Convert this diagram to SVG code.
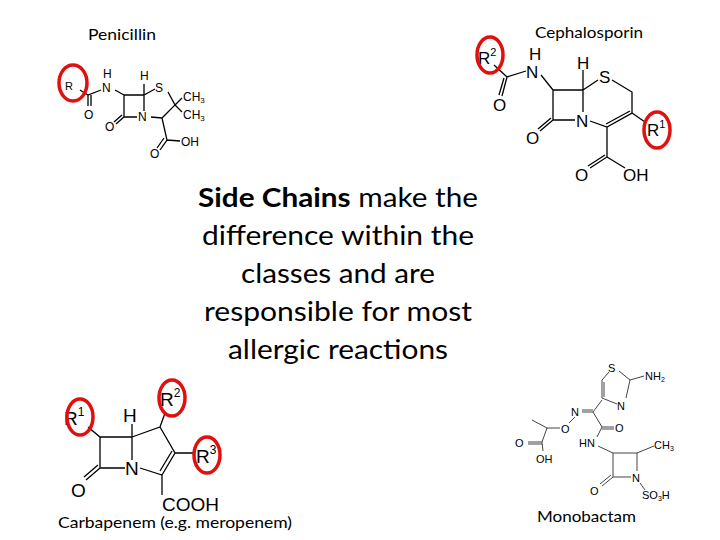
<svg xmlns="http://www.w3.org/2000/svg" width="720" height="540" viewBox="0 0 720 540">
<style>
.t{font-family:Lato,"Open Sans","Liberation Sans",sans-serif;fill:#000}
.a{font-family:"Liberation Sans",Arial,sans-serif;fill:#000}
.b{stroke:#000;stroke-width:1.3;fill:none}
.bm{stroke:#444;stroke-width:1;fill:none}
.r{stroke:#e01010;stroke-width:3.5;fill:none}
</style>
<rect width="720" height="540" fill="#fff"/>
<text class="t" x="88" y="40" font-size="15" textLength="68" lengthAdjust="spacingAndGlyphs">Penicillin</text>
<text class="t" x="535" y="38" font-size="15" textLength="108" lengthAdjust="spacingAndGlyphs">Cephalosporin</text>
<text class="t" x="58" y="528" font-size="15" textLength="234" lengthAdjust="spacingAndGlyphs">Carbapenem (e.g. meropenem)</text>
<text class="t" x="537" y="522" font-size="15" textLength="99" lengthAdjust="spacingAndGlyphs">Monobactam</text>
<g class="t" font-size="27" text-anchor="middle">
<text x="338" y="207" textLength="280" lengthAdjust="spacingAndGlyphs"><tspan font-weight="bold">Side Chains</tspan> make the</text>
<text x="338" y="245" textLength="272" lengthAdjust="spacingAndGlyphs">difference within the</text>
<text x="338" y="283" textLength="194" lengthAdjust="spacingAndGlyphs">classes and are</text>
<text x="338" y="321" textLength="268" lengthAdjust="spacingAndGlyphs">responsible for most</text>
<text x="338" y="359" textLength="220" lengthAdjust="spacingAndGlyphs">allergic reactions</text>
</g>
<!-- Penicillin -->
<g id="penicillin">
<path class="b" d="M80,90 L88,95 L101,90 M88,95 L88,106 M91,95 L91,106 M115,90 L124,95 M124,95 L144,95 L144,111 M124,95 L124,117 L137,117 M144,95 L155,89 M168,92 L175,105 L162,118 L151,117 M175,105 L182,98 M175,105 L182,112 M124,117 L116,124 M122,115 L114,122 M162,118 L167,140 L160,150 M164,138 L157,148 M167,140 L180,141 M144,95 L144,84"/>
<text class="a" x="65" y="90" font-size="11">R</text>
<text class="a" x="84" y="119" font-size="12">O</text>
<text class="a" x="102" y="92" font-size="12">N</text>
<text class="a" x="103" y="78" font-size="12">H</text>
<text class="a" x="140" y="80" font-size="12">H</text>
<text class="a" x="155" y="92" font-size="12">S</text>
<text class="a" x="183" y="101" font-size="12">CH<tspan font-size="8" dy="2">3</tspan></text>
<text class="a" x="183" y="119" font-size="12">CH<tspan font-size="8" dy="2">3</tspan></text>
<text class="a" x="138" y="121" font-size="12">N</text>
<text class="a" x="105" y="131" font-size="12">O</text>
<text class="a" x="150" y="158" font-size="12">O</text>
<text class="a" x="181" y="146" font-size="12">OH</text>
<ellipse class="r" cx="73" cy="83" rx="14" ry="18"/>
</g>
<!-- Cephalosporin -->
<g id="cephalosporin">
<path class="b" d="M494,65 L507,77 L526,71 M507,77 L502,96 M504,78 L499,95 M541,75 L553,90 M553,90 L583,90 L583,112 M553,90 L553,120 L575,120 M583,90 L598,80 M612,80 L632,92 L632,113 L607,127 L590,121 M630,111 L606,124 M632,113 L645,122 M553,120 L540,131 M551,118 L538,129 M607,127 L607,157 L590,168 M605,155 L588,166 M607,157 L625,168 M583,90 L583,70"/>
<text class="a" x="478" y="64" font-size="17">R<tspan font-size="11" dy="-8">2</tspan></text>
<text class="a" x="493" y="111" font-size="17">O</text>
<text class="a" x="526" y="78" font-size="17">N</text>
<text class="a" x="529" y="60" font-size="17">H</text>
<text class="a" x="577" y="69" font-size="17">H</text>
<text class="a" x="599" y="83" font-size="17">S</text>
<text class="a" x="576" y="127" font-size="17">N</text>
<text class="a" x="526" y="144" font-size="17">O</text>
<text class="a" x="575" y="181" font-size="17">O</text>
<text class="a" x="623" y="181" font-size="17">OH</text>
<text class="a" x="647" y="136" font-size="17">R<tspan font-size="11" dy="-8">1</tspan></text>
<ellipse class="r" cx="490" cy="55" rx="13" ry="18"/>
<ellipse class="r" cx="657" cy="130" rx="13" ry="18"/>
</g>
<!-- Carbapenem -->
<g id="carbapenem">
<path class="b" d="M88,427 L100,437 L132,437 L132,460 M100,437 L100,468 L125,468 M132,437 L160,427 L175,453 L162,475 L140,468 M172,451 L160,471 M160,427 L165,413 M175,453 L195,453 M100,468 L86,480 M98,465 L84,477 M162,475 L162,495 M132,437 L132,424"/>
<text class="a" x="64" y="425" font-size="19">R<tspan font-size="12" dy="-9">1</tspan></text>
<text class="a" x="123" y="422" font-size="19">H</text>
<text class="a" x="160" y="406" font-size="19">R<tspan font-size="12" dy="-9">2</tspan></text>
<text class="a" x="196" y="463" font-size="19">R<tspan font-size="12" dy="-9">3</tspan></text>
<text class="a" x="125" y="475" font-size="19">N</text>
<text class="a" x="71" y="497" font-size="19">O</text>
<text class="a" x="162" y="511" font-size="19">COOH</text>
<ellipse class="r" cx="80" cy="417" rx="13" ry="18"/>
<ellipse class="r" cx="172" cy="398" rx="13" ry="18"/>
<ellipse class="r" cx="207" cy="455" rx="13" ry="18"/>
</g>
<!-- Monobactam -->
<g id="monobactam">
<path class="bm" d="M609,372 L602,380 L602,398 L617,404 M604,382 L604,397 M619,371 L630,380 L626,398 M630,380 L644,376 M602,400 L593,412 L582,412 M593,410 L582,410 M593,412 L602,427 L614,427 M602,429 L614,429 M575,417 L569,423 M560,428 L547,428 L532,420 M547,428 L542,442 L528,442 M542,444 L528,444 M542,442 L543,451 M602,427 L597,437 M598,446 L613,453 L637,453 L654,446 M613,453 L613,477 L631,477 M637,453 L637,471 M613,477 L602,486 M611,475 L600,484 M640,483 L645,490"/>
<text class="a" x="608" y="372" font-size="11" fill="#333">S</text>
<text class="a" x="645" y="380" font-size="11" fill="#333">NH<tspan font-size="7" dy="2">2</tspan></text>
<text class="a" x="617" y="410" font-size="11" fill="#333">N</text>
<text class="a" x="571" y="416" font-size="11" fill="#333">N</text>
<text class="a" x="561" y="433" font-size="11" fill="#333">O</text>
<text class="a" x="615" y="432" font-size="11" fill="#333">O</text>
<text class="a" x="515" y="447" font-size="11" fill="#333">O</text>
<text class="a" x="536" y="463" font-size="11" fill="#333">OH</text>
<text class="a" x="579" y="447" font-size="11" fill="#333">HN</text>
<text class="a" x="654" y="449" font-size="11" fill="#333">CH<tspan font-size="7" dy="2">3</tspan></text>
<text class="a" x="632" y="482" font-size="11" fill="#333">N</text>
<text class="a" x="590" y="495" font-size="11" fill="#333">O</text>
<text class="a" x="642" y="499" font-size="11" fill="#333">SO<tspan font-size="7" dy="2">3</tspan><tspan dy="-2">H</tspan></text>
</g>
</svg>
